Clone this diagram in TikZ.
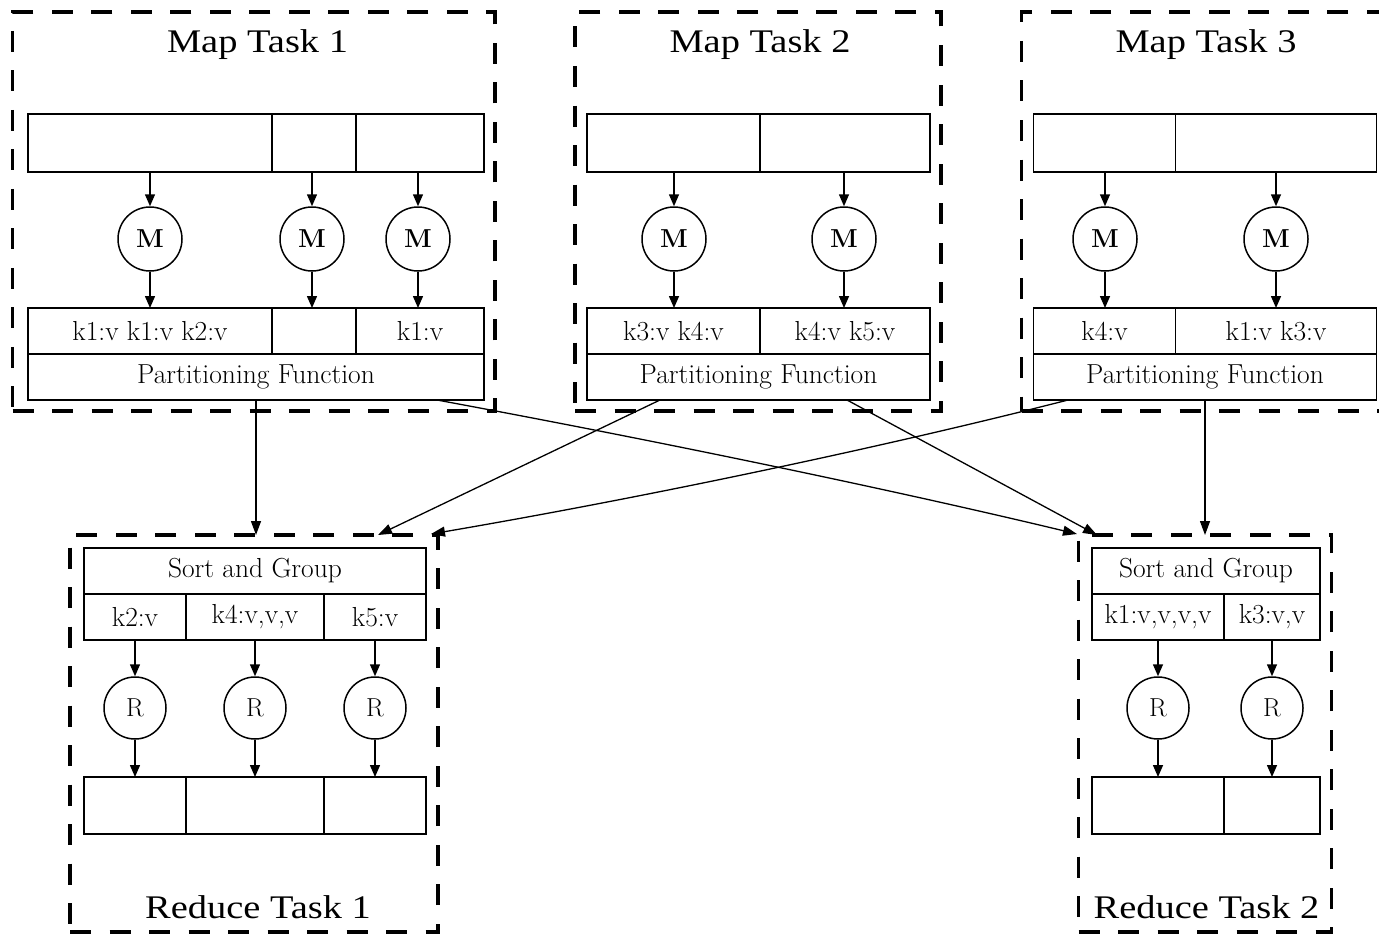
\documentclass[tikz,border=0pt]{standalone}
\usepackage{fontspec}
\newfontfamily\titlefont{Liberation Serif}
\usetikzlibrary{arrows.meta,calc}
\tikzset{
  cell/.style={draw, line width=1.6pt, inner sep=0pt, outer sep=0pt, anchor=center, font=\fontsize{27.5}{27.5}\selectfont},
  cluster/.style={draw, line width=3.2pt, dash pattern=on 21pt off 18.5pt, inner sep=0pt, outer sep=0pt, anchor=center},
  mapfn/.style={draw, circle, line width=1.5pt, minimum size=64pt, inner sep=0pt, font=\fontsize{26}{26}\selectfont\bfseries},
  redfn/.style={draw, circle, line width=1.5pt, minimum size=62pt, inner sep=0pt, font=\fontsize{26}{26}\selectfont},
  flow/.style={line width=1.5pt, -{Triangle[length=12pt,width=10pt]}},
  shuffle/.style={line width=1.3pt, -{Triangle[length=14pt,width=10pt]}},
  tasktitle/.style={anchor=base, inner sep=0pt, font=\titlefont\fontsize{33}{33}\selectfont},
}
\newcommand{\reccell}[6]{\node[cell, minimum width={(#4)-(#2)}, minimum height={(#5)-(#3)}] (#1) at ({((#2)+(#4))/2},{((#3)+(#5))/2}) {#6};}
\newcommand{\clusterbox}[5]{\node[cluster, minimum width={(#4)-(#2)}, minimum height={(#5)-(#3)}] (#1) at ({((#2)+(#4))/2},{((#3)+(#5))/2}) {};}
\newcommand{\wide}[1]{\scalebox{1.165}[1]{#1}}
\begin{document}
\begin{tikzpicture}[x=1pt,y=-1pt]
\useasboundingbox (0,0) rectangle (1379,934);
\fill[white] (0,0) rectangle (1379,934);
\clip (0,0) rectangle (1379,934);

% clusters
\clusterbox{mt1}{12.7}{12}{495}{411}
\clusterbox{mt2}{575}{12}{941}{411}
\clusterbox{mt3}{1021.5}{12}{1400}{411}
\clusterbox{rt1}{70}{535}{438}{932}
\clusterbox{rt2}{1078.5}{535}{1331.5}{932}

% titles
\node[tasktitle] (tmt1) at (257.5,53) {\wide{Map Task 1}};
\node[tasktitle] (tmt2) at (760,53) {\wide{Map Task 2}};
\node[tasktitle] (tmt3) at (1206,53) {\wide{Map Task 3}};
\node[tasktitle] (trt1) at (258,918) {\wide{Reduce Task 1}};
\node[tasktitle] (trt2) at (1206.5,918) {\wide{Reduce Task 2}};

% ---- Map Task 1
\reccell{t11}{28}{114}{272}{172}{}
\reccell{t12}{272}{114}{356}{172}{}
\reccell{t13}{356}{114}{484}{172}{}
\node[mapfn] (c11) at (150,239) {M};
\node[mapfn] (c12) at (312,239) {M};
\node[mapfn] (c13) at (418,239) {M};
\reccell{b11}{28}{308}{272}{354}{k1:v k1:v k2:v}
\reccell{b12}{272}{308}{356}{354}{}
\reccell{b13}{356}{308}{484}{354}{k1:v}
\reccell{pf1}{28}{354}{484}{400}{Partitioning Function}
\draw[flow] (c11 |- t11.south) -- (c11.north);
\draw[flow] (c12 |- t12.south) -- (c12.north);
\draw[flow] (c13 |- t13.south) -- (c13.north);
\draw[flow] (c11.south) -- (c11 |- b11.north);
\draw[flow] (c12.south) -- (c12 |- b12.north);
\draw[flow] (c13.south) -- (c13 |- b13.north);

% ---- Map Task 2
\reccell{t21}{587}{114}{760}{172}{}
\reccell{t22}{760}{114}{930}{172}{}
\node[mapfn] (c21) at (674,239) {M};
\node[mapfn] (c22) at (844,239) {M};
\reccell{b21}{587}{308}{760}{354}{k3:v k4:v}
\reccell{b22}{760}{308}{930}{354}{k4:v k5:v}
\reccell{pf2}{587}{354}{930}{400}{Partitioning Function}
\draw[flow] (c21 |- t21.south) -- (c21.north);
\draw[flow] (c22 |- t22.south) -- (c22.north);
\draw[flow] (c21.south) -- (c21 |- b21.north);
\draw[flow] (c22.south) -- (c22 |- b22.north);

% ---- Map Task 3
\reccell{t31}{1033.5}{114}{1175.5}{172}{}
\reccell{t32}{1175.5}{114}{1376.5}{172}{}
\node[mapfn] (c31) at (1105,239) {M};
\node[mapfn] (c32) at (1276,239) {M};
\reccell{b31}{1033.5}{308}{1175.5}{354}{k4:v}
\reccell{b32}{1175.5}{308}{1376.5}{354}{k1:v k3:v}
\reccell{pf3}{1033.5}{354}{1376.5}{400}{Partitioning Function}
\draw[flow] (c31 |- t31.south) -- (c31.north);
\draw[flow] (c32 |- t32.south) -- (c32.north);
\draw[flow] (c31.south) -- (c31 |- b31.north);
\draw[flow] (c32.south) -- (c32 |- b32.north);

% ---- Reduce Task 1
\reccell{s1}{84}{548}{426}{594}{Sort and Group}
\reccell{k11}{84}{594}{186}{640}{k2:v}
\reccell{k12}{186}{594}{324}{640}{k4:v,v,v}
\reccell{k13}{324}{594}{426}{640}{k5:v}
\node[redfn] (r11) at (135,708) {R};
\node[redfn] (r12) at (255,708) {R};
\node[redfn] (r13) at (375,708) {R};
\reccell{o11}{84}{777}{186}{834}{}
\reccell{o12}{186}{777}{324}{834}{}
\reccell{o13}{324}{777}{426}{834}{}
\draw[flow] (r11 |- k11.south) -- (r11.north);
\draw[flow] (r12 |- k12.south) -- (r12.north);
\draw[flow] (r13 |- k13.south) -- (r13.north);
\draw[flow] (r11.south) -- (r11 |- o11.north);
\draw[flow] (r12.south) -- (r12 |- o12.north);
\draw[flow] (r13.south) -- (r13 |- o13.north);

% ---- Reduce Task 2
\reccell{s2}{1092}{548}{1320}{594}{Sort and Group}
\reccell{k21}{1092}{594}{1224}{640}{k1:v,v,v,v}
\reccell{k22}{1224}{594}{1320}{640}{k3:v,v}
\node[redfn] (r21) at (1158,708) {R};
\node[redfn] (r22) at (1272,708) {R};
\reccell{o21}{1092}{777}{1224}{834}{}
\reccell{o22}{1224}{777}{1320}{834}{}
\draw[flow] (r21 |- k21.south) -- (r21.north);
\draw[flow] (r22 |- k22.south) -- (r22.north);
\draw[flow] (r21.south) -- (r21 |- o21.north);
\draw[flow] (r22.south) -- (r22 |- o22.north);

% ---- shuffle connectors
\coordinate (a1s) at (437,400);
\coordinate (a1e) at (1077,534);
\coordinate (a2s) at (660,400);
\coordinate (a2e) at (378,535);
\coordinate (a3s) at (847,400);
\coordinate (a3e) at (1097,535);
\coordinate (a4s) at (1068,400);
\coordinate (a4e) at (431,534);
\draw[shuffle] (pf1.south) -- (pf1.south |- rt1.north);
\draw[shuffle] (pf3.south) -- (pf3.south |- rt2.north);
\draw[shuffle] (a1s) .. controls (637,437) and (877,486) .. (a1e);
\draw[shuffle] (a2s) -- (a2e);
\draw[shuffle] (a3s) -- (a3e);
\draw[shuffle] (a4s) .. controls (868,451) and (630,500) .. (a4e);
\end{tikzpicture}
\end{document}
